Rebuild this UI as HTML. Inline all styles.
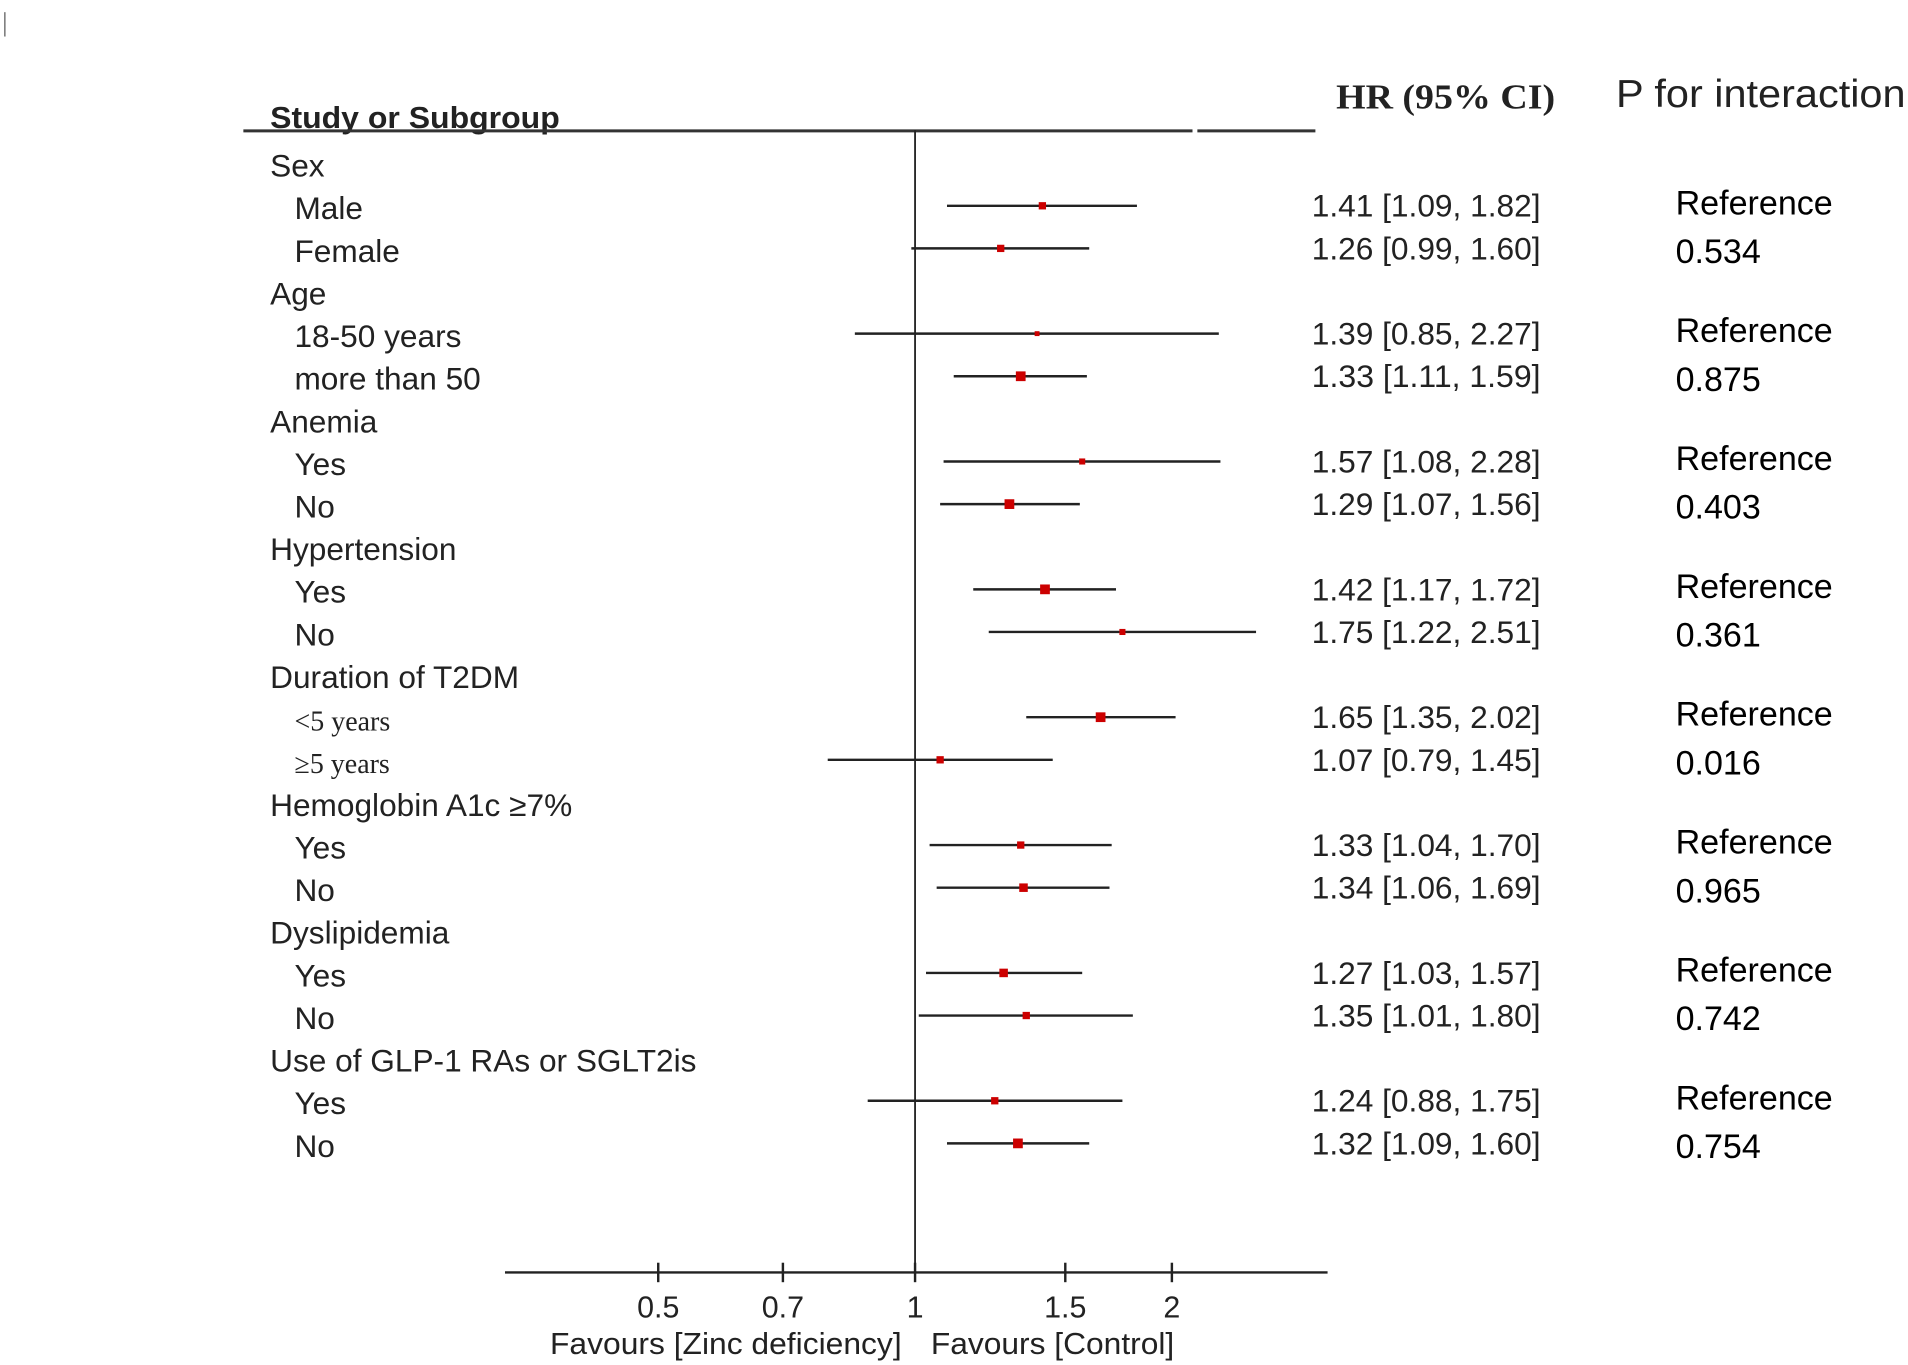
<!DOCTYPE html>
<html><head><meta charset="utf-8"><style>
html,body{margin:0;padding:0;background:#fff;}
svg{display:block;}
text{font-family:"Liberation Sans",sans-serif;fill:#222;}
</style></head><body>
<svg id="chart" width="1908" height="1365" viewBox="0 0 1568 1121" preserveAspectRatio="none" xmlns="http://www.w3.org/2000/svg">
<line x1="4" y1="10" x2="4" y2="30" stroke="#555" stroke-width="1"/>
<text x="222" y="105" font-size="25" font-weight="bold" fill="#333" textLength="238" lengthAdjust="spacingAndGlyphs">Study or Subgroup</text>
<line x1="200" y1="107.5" x2="980" y2="107.5" stroke="#333" stroke-width="2.5"/>
<line x1="984" y1="107.5" x2="1081" y2="107.5" stroke="#333" stroke-width="2.5"/>
<text x="1098" y="89" font-size="29" font-weight="bold" style="font-family:'Liberation Serif',serif" fill="#000" textLength="180" lengthAdjust="spacingAndGlyphs">HR (95% CI)</text>
<text x="1328" y="88" font-size="32" fill="#000" textLength="238" lengthAdjust="spacingAndGlyphs">P for interaction</text>
<g id="rows"></g>
<g id="axis"></g>
</svg>
<script>
const labels=["Sex","Male","Female","Age","18-50 years","more than 50","Anemia","Yes","No","Hypertension","Yes","No","Duration of T2DM","<5 years","\u22655 years","Hemoglobin A1c \u22657%","Yes","No","Dyslipidemia","Yes","No","Use of GLP-1 RAs or SGLT2is","Yes","No"];
const isHeader=[1,0,0,1,0,0,1,0,0,1,0,0,1,0,0,1,0,0,1,0,0,1,0,0];
const hr=[null,1.41,1.26,null,1.39,1.33,null,1.57,1.29,null,1.42,1.75,null,1.65,1.07,null,1.33,1.34,null,1.27,1.35,null,1.24,1.32];
const lo=[null,1.09,0.99,null,0.85,1.11,null,1.08,1.07,null,1.17,1.22,null,1.35,0.79,null,1.04,1.06,null,1.03,1.01,null,0.88,1.09];
const hi=[null,1.82,1.60,null,2.27,1.59,null,2.28,1.56,null,1.72,2.51,null,2.02,1.45,null,1.70,1.69,null,1.57,1.80,null,1.75,1.60];
const boxSize=[0,6,6,0,4,8,0,5,8,0,8,5,0,8,6,0,6,7,0,7,6,0,6,8];
const pvals=[null,"Reference","0.534",null,"Reference","0.875",null,"Reference","0.403",null,"Reference","0.361",null,"Reference","0.016",null,"Reference","0.965",null,"Reference","0.742",null,"Reference","0.754"];
const ticks=[0.5,0.7,1,1.5,2];
const tickLabels=["0.5","0.7","1","1.5","2"];

const NS="http://www.w3.org/2000/svg";
const X=v=>752+304.5*Math.log(v);
const Y=i=>136+35*i;
function mk(tag,attrs,parent,txt){const e=document.createElementNS(NS,tag);for(const k in attrs)e.setAttribute(k,attrs[k]);if(txt!==undefined)e.textContent=txt;parent.appendChild(e);return e;}
const rows=document.getElementById('rows'), axis=document.getElementById('axis');

labels.forEach((l,i)=>{
  const serif=(i===13||i===14);
  const t=mk('text',{x:isHeader[i]?222:242,y:Y(i)+9,'font-size':serif?23:26},rows,l);
  if(serif)t.setAttribute('style',"font-family:'Liberation Serif',serif");
  
  
  if(hr[i]!==null){
    const cy=Y(i)-2;
    const ln=mk('line',{x1:X(lo[i]),x2:X(hi[i]),y1:cy,y2:cy,stroke:'#222','stroke-width':2},rows);
    
    
    const s=boxSize[i];
    const b=mk('rect',{x:X(hr[i])-s/2,y:cy-s/2,width:s,height:s,fill:'#cc0000'},rows);
    
    
    const ht=mk('text',{x:1078,y:cy+9,'font-size':26,textLength:188,lengthAdjust:'spacingAndGlyphs'},rows,hr[i].toFixed(2)+" ["+lo[i].toFixed(2)+", "+hi[i].toFixed(2)+"]");
    
    
  }
  if(pvals[i]!==null){
    const ref=pvals[i]==="Reference";
    const pt=mk('text',{x:1377,y:ref?Y(i)+5:Y(i)+10,'font-size':28},rows,pvals[i]);
    pt.setAttribute('style','fill:#000');
    
    
  }
});
const vl=mk('line',{x1:X(1),x2:X(1),y1:107,y2:1045,stroke:'#222','stroke-width':1.5},axis);


const al=mk('line',{x1:415,x2:1091,y1:1045,y2:1045,stroke:'#222','stroke-width':2},axis);


ticks.forEach((v,k)=>{
  const tk=mk('line',{x1:X(v),x2:X(v),y1:1037,y2:1053,stroke:'#222','stroke-width':2},axis);
  
  
  const tl=mk('text',{x:X(v),y:1082,'font-size':25,'text-anchor':'middle',fill:'#444'},axis,tickLabels[k]);
  
  
});
const f1=mk('text',{x:452,y:1112,'font-size':25,fill:'#555',textLength:289,lengthAdjust:'spacingAndGlyphs'},axis,"Favours [Zinc deficiency]");


const f2=mk('text',{x:765,y:1112,'font-size':25,fill:'#555',textLength:200,lengthAdjust:'spacingAndGlyphs'},axis,"Favours [Control]");


</script>
</body></html>
